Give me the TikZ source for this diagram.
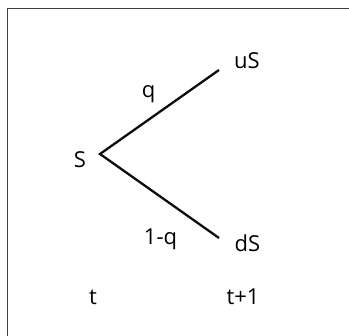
\documentclass[tikz,border=0pt]{standalone}
\usepackage{fontspec}
\setmainfont{Open Sans}
\begin{document}
\begin{tikzpicture}[x=1pt,y=-1pt,
  lbl/.style={font=\fontsize{22}{26}\selectfont, inner sep=0pt, anchor=base, text=black},
  branch/.style={line width=2.3pt, black!95}]
\useasboundingbox (0,0) rectangle (349,336);
\draw[line width=1.8pt, black!75] (7.5,336) -- (7.5,8.5) -- (349,8.5);
\coordinate (root) at (100,154);
\coordinate (up) at (219,70);
\coordinate (dn) at (219,238);
\draw[branch] (up) -- (root) -- (dn);
\node[lbl] (S) at (80,168) {S};
\node[lbl] (uS) at (247,69) {uS};
\node[lbl] (dS) at (247.5,252) {dS};
\node[lbl] (q) at (148.5,98) {q};
\node[lbl] (oq) at (160.5,245) {1-q};
\node[lbl] (t) at (93,305) {t};
\node[lbl] (t1) at (243,305) {t+1};
\end{tikzpicture}
\end{document}
